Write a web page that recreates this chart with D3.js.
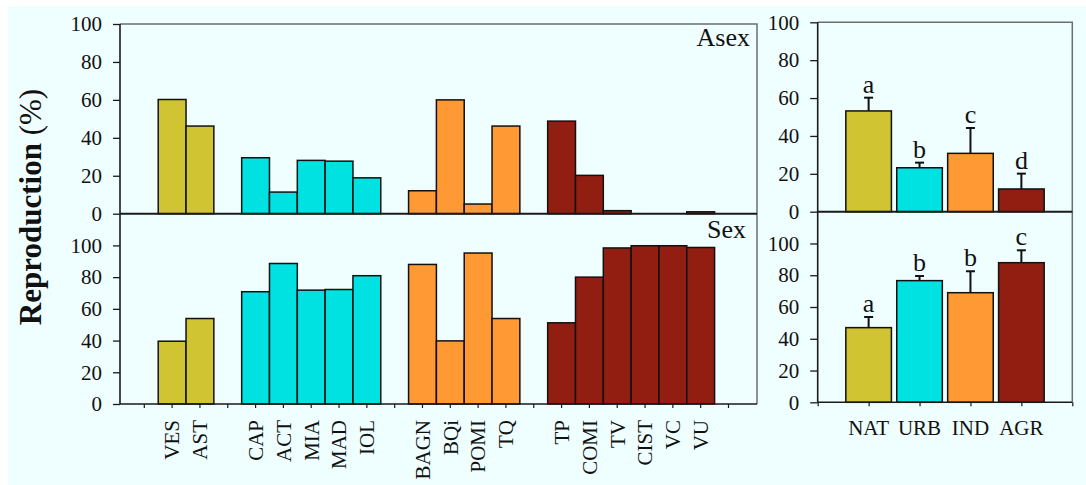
<!DOCTYPE html>
<html>
<head>
<meta charset="utf-8">
<script src="https://cdn.jsdelivr.net/npm/d3@7"></script>
<style>
  body { margin: 0; background: #ffffff; }
  svg { display: block; }
</style>
</head>
<body>
<svg id="chart" width="1086" height="485"></svg>
<script>
// ---- data ---------------------------------------------------------------
const sites        = ["VES","AST","CAP","ACT","MIA","MAD","IOL","BAGN","BQi","POMI","TQ","TP","COMI","TV","CIST","VC","VU"];
const siteHabitat  = ["NAT","NAT","URB","URB","URB","URB","URB","IND","IND","IND","IND","AGR","AGR","AGR","AGR","AGR","AGR"];
const asexBySite   = [60.2, 46.2, 29.5, 11.4, 28.1, 27.7, 18.9, 12.1, 60.0, 5.1, 46.2, 48.8, 20.2, 1.6, 0, 0, 1.0];
const sexBySite    = [39.6, 53.9, 70.8, 88.6, 71.8, 72.2, 80.9, 88.0, 39.8, 95.2, 53.9, 51.2, 80.0, 98.4, 99.8, 99.8, 98.7];

const habitats      = ["NAT","URB","IND","AGR"];
const habitatColors = ["#D1C432","#00E1E1","#FF9933","#921E12"];
const asexMean      = [53.2, 23.2, 30.8, 12.0];
const asexErr       = [7.0, 2.7, 13.4, 8.1];
const asexLetters   = ["a","b","c","d"];
const sexMean       = [47.0, 76.6, 69.0, 87.9];
const sexErr        = [6.7, 2.9, 13.5, 7.8];
const sexLetters    = ["a","b","b","c"];

const yTicks = [0, 20, 40, 60, 80, 100];

// ---- setup --------------------------------------------------------------
const FONT = "'Liberation Serif', 'Times New Roman', serif";
const svg = d3.select("#chart");
const color = d3.scaleOrdinal(habitats, habitatColors);
const FRAME = "#6e6e6e", AXIS = "#1a1a1a";

svg.append("rect").attr("x", 8).attr("y", 6).attr("width", 1078).attr("height", 479)
   .attr("fill", "#EFFEFE");

// Site slots: one empty slot before, between and after each habitat group
const groupOf = s => habitats.indexOf(siteHabitat[sites.indexOf(s)]);
const slotOf = s => 1 + sites.indexOf(s) + groupOf(s);
const nSlots = slotOf(sites[sites.length - 1]) + 2;
const slotLabels = d3.range(nSlots).map(i => { const s = sites.find(t => slotOf(t) === i); return s || ""; });

function yAxisStyle(g) {
  g.select(".domain").remove();
  g.selectAll(".tick line").attr("stroke", AXIS).attr("stroke-width", 1.3);
  g.selectAll(".tick text").style("font-size", "21px").attr("fill", "#111");
}

// ---- left panel: individual sites ---------------------------------------
const L = { x0: 120, x1: 757, top: 24, mid: 213.7, bottom: 404 };
const xSite = d3.scaleBand().domain(d3.range(nSlots)).range([130.4, 742.4]).padding(0);
const yAsexL = d3.scaleLinear().domain([0, 100]).range([L.mid, L.top]);
const ySexL  = d3.scaleLinear().domain([0, 120]).range([L.bottom, L.mid]);

const left = svg.append("g");
left.append("path").attr("d", `M${L.x0},${L.top}H${L.x1}V${L.bottom}`).attr("fill", "none")
    .attr("stroke", FRAME).attr("stroke-width", 1.5);

left.append("g").attr("transform", `translate(${L.x0},0)`)
    .call(d3.axisLeft(yAsexL).tickValues(yTicks).tickSize(7).tickPadding(11)).call(yAxisStyle);
left.append("g").attr("transform", `translate(${L.x0},0)`)
    .call(d3.axisLeft(ySexL).tickValues(yTicks).tickSize(7).tickPadding(11)).call(yAxisStyle);

left.selectAll("rect.asex").data(sites).join("rect").attr("class", "asex")
    .attr("x", s => xSite(slotOf(s))).attr("width", xSite.bandwidth())
    .attr("y", (s, i) => yAsexL(asexBySite[i]))
    .attr("height", (s, i) => yAsexL(0) - yAsexL(asexBySite[i]))
    .attr("fill", s => color(siteHabitat[sites.indexOf(s)]))
    .attr("stroke", "#111").attr("stroke-width", 1.5);

left.selectAll("rect.sex").data(sites).join("rect").attr("class", "sex")
    .attr("x", s => xSite(slotOf(s))).attr("width", xSite.bandwidth())
    .attr("y", (s, i) => ySexL(sexBySite[i]))
    .attr("height", (s, i) => ySexL(0) - ySexL(sexBySite[i]))
    .attr("fill", s => color(siteHabitat[sites.indexOf(s)]))
    .attr("stroke", "#111").attr("stroke-width", 1.5);

const xAxisL = left.append("g").attr("transform", `translate(0,${L.bottom})`)
    .call(d3.axisBottom(xSite).tickSize(4).tickFormat(i => slotLabels[i]));
xAxisL.select(".domain").remove();
xAxisL.selectAll(".tick line").attr("stroke", AXIS).attr("stroke-width", 1.2);
xAxisL.selectAll(".tick text")
    .attr("transform", "rotate(-90)").attr("text-anchor", "end")
    .attr("x", -16).attr("y", 0).attr("dy", "0.35em")
    .style("font-size", "21px").attr("fill", "#111");

left.append("line").attr("x1", L.x0).attr("x2", L.x0).attr("y1", L.top).attr("y2", L.bottom)
    .attr("stroke", AXIS).attr("stroke-width", 1.6);
left.append("line").attr("x1", L.x0).attr("x2", L.x1).attr("y1", L.mid).attr("y2", L.mid)
    .attr("stroke", AXIS).attr("stroke-width", 2);
left.append("line").attr("x1", L.x0).attr("x2", L.x1).attr("y1", L.bottom).attr("y2", L.bottom)
    .attr("stroke", AXIS).attr("stroke-width", 1.6);

left.append("text").attr("x", 750).attr("y", 46).attr("text-anchor", "end").style("font-size", "26px").text("Asex");
left.append("text").attr("x", 746).attr("y", 237.5).attr("text-anchor", "end").style("font-size", "26px").text("Sex");

// y title
const title = svg.append("text").attr("transform", "translate(41,207) rotate(-90)")
    .attr("text-anchor", "middle").style("font-size", "31px");
title.append("tspan").style("font-weight", "bold").text("Reproduction");
title.append("tspan").text(" (%)");

// ---- right panel: habitat means -----------------------------------------
const R = { x0: 817.7, x1: 1072.3, top: 22.3, mid: 211.7, bottom: 402.3 };
const xHab = d3.scaleLinear().domain([0, habitats.length + 1]).range([R.x0, R.x1]);
const barW = (xHab(1) - xHab(0)) * 0.895;
const yAsexR = d3.scaleLinear().domain([0, 100]).range([R.mid, R.top]);
const ySexR  = d3.scaleLinear().domain([0, 120]).range([R.bottom, R.mid]);

const right = svg.append("g");
right.append("path").attr("d", `M${R.x0},${R.top}H${R.x1}V${R.bottom}`).attr("fill", "none")
     .attr("stroke", FRAME).attr("stroke-width", 1.5);

right.append("g").attr("transform", `translate(${R.x0},0)`)
     .call(d3.axisLeft(yAsexR).tickValues(yTicks).tickSize(7.5).tickPadding(11)).call(yAxisStyle);
right.append("g").attr("transform", `translate(${R.x0},0)`)
     .call(d3.axisLeft(ySexR).tickValues(yTicks).tickSize(7.5).tickPadding(11)).call(yAxisStyle);

function meanPanel(y, means, errs, letters) {
  const g = right.append("g");
  const cx = i => xHab(i + 1);
  g.selectAll("line.err").data(habitats).join("line").attr("class", "err")
   .attr("x1", (d, i) => cx(i)).attr("x2", (d, i) => cx(i))
   .attr("y1", (d, i) => y(means[i])).attr("y2", (d, i) => y(means[i] + errs[i]))
   .attr("stroke", "#111").attr("stroke-width", 2);
  g.selectAll("line.cap").data(habitats).join("line").attr("class", "cap")
   .attr("x1", (d, i) => cx(i) - 4.5).attr("x2", (d, i) => cx(i) + 4.5)
   .attr("y1", (d, i) => y(means[i] + errs[i])).attr("y2", (d, i) => y(means[i] + errs[i]))
   .attr("stroke", "#111").attr("stroke-width", 2);
  g.selectAll("rect").data(habitats).join("rect")
   .attr("x", (d, i) => cx(i) - barW / 2).attr("width", barW)
   .attr("y", (d, i) => y(means[i])).attr("height", (d, i) => y(0) - y(means[i]))
   .attr("fill", d => color(d)).attr("stroke", "#111").attr("stroke-width", 1.5);
  g.selectAll("text").data(letters).join("text")
   .attr("x", (d, i) => cx(i)).attr("y", (d, i) => y(means[i] + errs[i]) - 5)
   .attr("text-anchor", "middle").style("font-size", "26px").text(d => d);
}
meanPanel(yAsexR, asexMean, asexErr, asexLetters);
meanPanel(ySexR, sexMean, sexErr, sexLetters);

const xAxisR = right.append("g").attr("transform", `translate(0,${R.bottom})`)
    .call(d3.axisBottom(xHab).ticks(habitats.length + 1).tickSize(4).tickFormat(""));
xAxisR.select(".domain").remove();
xAxisR.selectAll(".tick line").attr("stroke", AXIS).attr("stroke-width", 1.2);
right.selectAll("text.hab").data(habitats).join("text").attr("class", "hab")
     .attr("x", (d, i) => xHab(i + 1)).attr("y", 435).attr("text-anchor", "middle")
     .style("font-size", "21px").text(d => d);

right.append("line").attr("x1", R.x0).attr("x2", R.x0).attr("y1", R.top).attr("y2", R.bottom)
     .attr("stroke", AXIS).attr("stroke-width", 1.6);
right.append("line").attr("x1", R.x0).attr("x2", R.x1).attr("y1", R.mid).attr("y2", R.mid)
     .attr("stroke", AXIS).attr("stroke-width", 2);
right.append("line").attr("x1", R.x0).attr("x2", R.x1).attr("y1", R.bottom).attr("y2", R.bottom)
     .attr("stroke", AXIS).attr("stroke-width", 1.6);

// every label in the serif face
svg.selectAll("text").style("font-family", FONT).attr("fill", "#111");
</script>
</body>
</html>
